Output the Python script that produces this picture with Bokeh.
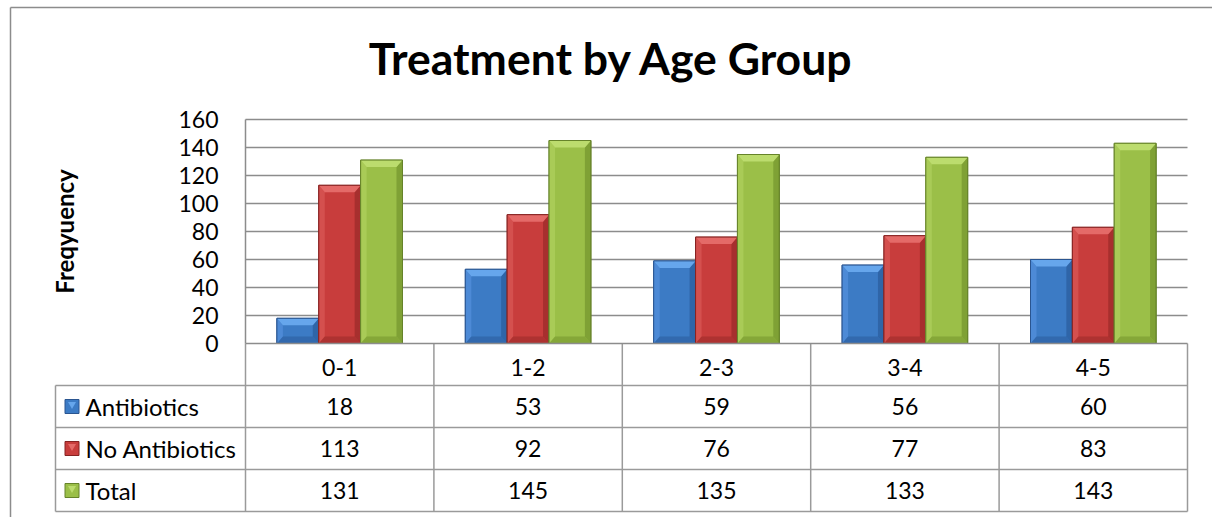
import math
import numpy as np
from bokeh.plotting import figure
from bokeh.models import LinearAxis, FixedTicker, Range1d, Label, ColumnDataSource
from bokeh.core.properties import value
from bokeh.embed import file_html
from bokeh.resources import INLINE

# ---------------- data ----------------
categories = ["0-1", "1-2", "2-3", "3-4", "4-5"]
series_names = ["Antibiotics", "No Antibiotics", "Total"]
antibiotics = [18, 53, 59, 56, 60]
no_antibiotics = [113, 92, 76, 77, 83]
total = [131, 145, 135, 133, 143]
y_ticks = [0, 20, 40, 60, 80, 100, 120, 140, 160]
title_text = "Treatment by Age Group"
y_label_text = "Freqyuency"

series_values = [antibiotics, no_antibiotics, total]

# ---------------- styles / layout ----------------
W, H = 1212, 517
PLOT_LEFT_PX, PLOT_BOTTOM_PX = 245, 343
PX_PER_CAT = 188.4
PX_PER_UNIT = 1.4
FONT = "Lato"
GRAY = "#8c8c8c"
TABLE_GRAY = "#9a9a9a"
NUM_SIZE = "23px"
LABEL_SIZE = "24px"

colors = [
    dict(base="#3c7bc5", light="#66a6ec", side="#4d8ad6", dark="#2b5e9e", line="#2a5590"),
    dict(base="#c83d3c", light="#e46a68", side="#d4504e", dark="#9c2b2a", line="#862322"),
    dict(base="#9bbf48", light="#bcdc6e", side="#a9cb57", dark="#76972f", line="#66832a"),
]


def px_x(px):
    return (px - PLOT_LEFT_PX) / PX_PER_CAT


def px_y(px):
    return (PLOT_BOTTOM_PX - px) / PX_PER_UNIT


x_start, x_end = px_x(0), px_x(W)
y_end, y_start = px_y(0), px_y(H)

n = len(categories)
xs = np.arange(n) + 0.5
bar_w = 1 / 4.5
row_h = 30.0
legend_left = px_x(55)

p = figure(width=W, height=H, x_range=Range1d(x_start, x_end), y_range=Range1d(y_start, y_end),
           x_axis_type=None, y_axis_type=None, toolbar_location=None, output_backend="svg",
           min_border=0, outline_line_color=None,
           background_fill_color="white", border_fill_color="white")

# outer chart border (only top & left visible in the window)
p.segment(x0=[px_x(10), px_x(10)], y0=[px_y(7), px_y(7)],
          x1=[x_end + 1, px_x(10)], y1=[px_y(7), y_start - 10],
          line_color=GRAY, line_width=1.5)

# horizontal gridlines
p.segment(x0=0, x1=n, y0=y_ticks[1:], y1=y_ticks[1:], line_color=GRAY, line_width=1.5)

# ---------------- bars ----------------
bx = 6.0 / PX_PER_CAT
by = 7.0 / PX_PER_UNIT
for k, (name, vals) in enumerate(zip(series_names, series_values)):
    c = colors[k]
    cx = xs + (k - 1) * bar_w
    src = ColumnDataSource(dict(x=cx, top=vals))
    p.vbar(x="x", top="top", bottom=0, width=bar_w, source=src,
           fill_color=c["base"], line_color=c["line"], line_width=1)
    L = cx - bar_w / 2
    R = cx + bar_w / 2
    T = np.array(vals, dtype=float)
    top_xs, top_ys, lx, ly, rx, ry, bxs, bys = [], [], [], [], [], [], [], []
    for l, r, t in zip(L, R, T):
        b = min(by, t / 2)
        top_xs.append([l, r, r - bx, l + bx]); top_ys.append([t, t, t - b, t - b])
        lx.append([l, l + bx, l + bx, l]); ly.append([t, t - b, b, 0])
        rx.append([r, r - bx, r - bx, r]); ry.append([t, t - b, b, 0])
        bxs.append([l, r, r - bx, l + bx]); bys.append([0, 0, b, b])
    p.patches(xs=lx, ys=ly, fill_color=c["side"], line_color=None)
    p.patches(xs=rx, ys=ry, fill_color=c["dark"], line_color=None, fill_alpha=0.75)
    p.patches(xs=bxs, ys=bys, fill_color=c["dark"], line_color=None, fill_alpha=0.6)
    p.patches(xs=top_xs, ys=top_ys, fill_color=c["light"], line_color=None)
    p.vbar(x="x", top="top", bottom=0, width=bar_w, source=src,
           fill_color=None, line_color=c["line"], line_width=1)

# ---------------- axes ----------------
yax = LinearAxis(fixed_location=0, ticker=FixedTicker(ticks=y_ticks),
                 bounds=(min(y_ticks), max(y_ticks)),
                 axis_line_color=GRAY, axis_line_width=1.5,
                 major_tick_line_color=None, minor_tick_line_color=None,
                 major_label_standoff=21, major_label_text_font=FONT,
                 major_label_text_font_size=NUM_SIZE, major_label_text_color="black")
p.add_layout(yax, "left")

xax = LinearAxis(fixed_location=0, ticker=FixedTicker(ticks=list(xs)),
                 major_label_overrides={float(x): c for x, c in zip(xs, categories)},
                 bounds=(0, n), axis_line_color=GRAY, axis_line_width=1.5,
                 major_tick_line_color=None, minor_tick_line_color=None,
                 major_label_standoff=9, major_label_text_font=FONT,
                 major_label_text_font_size=NUM_SIZE, major_label_text_color="black")
p.add_layout(xax, "below")

# ---------------- data table ----------------
n_rows = len(series_names)
row_edges = [-row_h * (i + 1) for i in range(n_rows + 1)]
p.segment(x0=legend_left, x1=n, y0=row_edges, y1=row_edges, line_color=TABLE_GRAY, line_width=1.5)
p.segment(x0=list(range(n + 1)), x1=list(range(n + 1)), y0=0, y1=row_edges[-1],
          line_color=TABLE_GRAY, line_width=1.5)
p.segment(x0=legend_left, x1=legend_left, y0=row_edges[0], y1=row_edges[-1],
          line_color=TABLE_GRAY, line_width=1.5)

tx, ty, tt = [], [], []
for r, vals in enumerate(series_values):
    for cidx, v in enumerate(vals):
        tx.append(xs[cidx]); ty.append(-row_h * (r + 1.5)); tt.append(str(v))
p.text(x=tx, y=ty, text=tt, text_font=value(FONT), text_font_size=value(NUM_SIZE),
       text_align="center", text_baseline="middle", text_color="black")

row_centers = [-row_h * (r + 1.5) for r in range(n_rows)]
p.scatter(x=px_x(71.5), y=row_centers, marker="square", size=14,
          fill_color=[c["base"] for c in colors], line_color=[c["line"] for c in colors], line_width=1)
p.scatter(x=px_x(71.5), y=[rc + 1.6 for rc in row_centers], marker="triangle", size=8, angle=math.pi,
          fill_color=[c["light"] for c in colors], line_color=None)
p.text(x=px_x(85), y=row_centers, text=series_names, text_font=value(FONT), text_font_size=value(LABEL_SIZE),
       text_align="left", text_baseline="middle", text_color="black")

# ---------------- title & y label ----------------
p.add_layout(Label(x=px_x(611), y=px_y(57), text=title_text, text_font=FONT, text_font_style="bold",
                   text_font_size="44.5px", text_align="center", text_baseline="middle", text_color="black"))
p.add_layout(Label(x=px_x(64), y=(min(y_ticks) + max(y_ticks)) / 2, text=y_label_text, angle=math.pi / 2,
                   text_font=FONT, text_font_style="bold", text_font_size="24px",
                   text_align="center", text_baseline="middle", text_color="black"))

open("out.html", "w").write(file_html(p, INLINE))
